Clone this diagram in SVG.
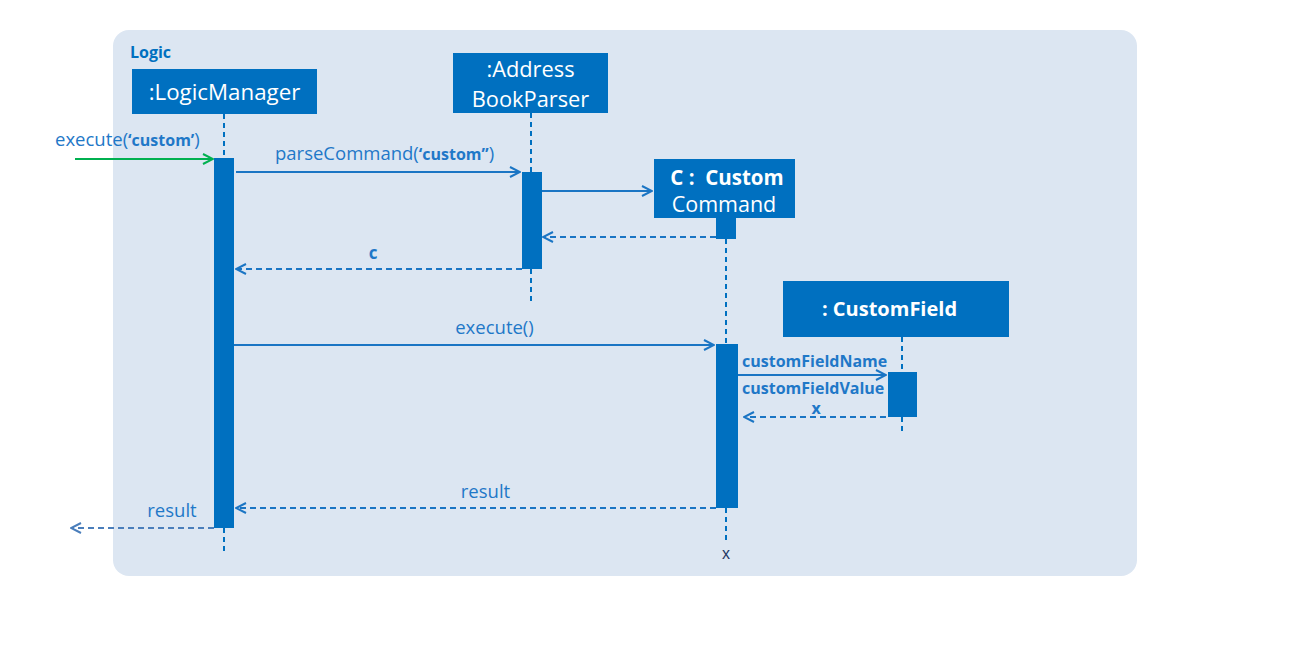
<svg xmlns="http://www.w3.org/2000/svg" width="1302" height="648" viewBox="0 0 1302 648">
<defs>
<style>
.box{fill:#0070c0;}
.act{fill:#0070c0;}
.bt{fill:#ffffff;font-family:"Open Sans","Noto Sans",sans-serif;text-anchor:middle;}
.life{stroke:#0070c0;stroke-width:2;stroke-dasharray:5,4;fill:none;}
.msg{stroke:#1a75c4;stroke-width:2;fill:none;}
.ret{stroke:#1a75c4;stroke-width:2;stroke-dasharray:6,4;fill:none;}
.lbl{fill:#1f78c8;font-family:"Open Sans","Noto Sans",sans-serif;font-size:18.5px;}
.sm{font-weight:bold;font-size:16px;}
.b{font-weight:bold;}
</style>
<marker id="open" viewBox="0 0 12 12" refX="11" refY="6" markerWidth="12" markerHeight="12" markerUnits="userSpaceOnUse" orient="auto">
<path d="M1,1 L11,6 L1,11" fill="none" stroke="#1a75c4" stroke-width="2"/>
</marker>
<marker id="openG" viewBox="0 0 12 12" refX="11" refY="6" markerWidth="12" markerHeight="12" markerUnits="userSpaceOnUse" orient="auto">
<path d="M1,1 L11,6 L1,11" fill="none" stroke="#00b050" stroke-width="2"/>
</marker>
<marker id="openL" viewBox="0 0 12 12" refX="11" refY="6" markerWidth="12" markerHeight="12" markerUnits="userSpaceOnUse" orient="auto">
<path d="M1,1 L11,6 L1,11" fill="none" stroke="#4a7ebb" stroke-width="2"/>
</marker>
</defs>
<rect width="1302" height="648" fill="#ffffff"/>
<g id="frame">
<rect x="113" y="30" width="1024" height="546" rx="16" fill="#dce6f2"/>
<text x="130" y="58" font-family="Open Sans, Noto Sans, sans-serif" font-weight="bold" font-size="16" fill="#0070c0">Logic</text>
</g>
<g id="logicManager">
<rect class="box" x="132" y="69" width="185" height="45"/>
<text class="bt" x="224.5" y="100" font-size="22.3">:LogicManager</text>
<line class="life" x1="224" y1="114" x2="224" y2="158"/>
<rect class="act" x="214" y="158" width="20" height="370"/>
<line class="life" x1="224" y1="528" x2="224" y2="555"/>
</g>
<g id="addressBookParser">
<rect class="box" x="453" y="53" width="155" height="60"/>
<text class="bt" x="530.5" y="77" font-size="21.8">:Address</text>
<text class="bt" x="530.5" y="107" font-size="21.8">BookParser</text>
<line class="life" x1="531" y1="113" x2="531" y2="172"/>
<rect class="act" x="522" y="172" width="20" height="97"/>
<line class="life" x1="531" y1="269" x2="531" y2="301"/>
</g>
<g id="customCommand">
<rect class="box" x="654" y="159" width="141" height="59"/>
<text class="bt" x="727" y="185" font-size="20.5" font-weight="bold" xml:space="preserve">C :  Custom</text>
<text class="bt" x="724" y="212" font-size="21.5">Command</text>
<rect class="act" x="716" y="218" width="20" height="21"/>
<line class="life" x1="726" y1="239" x2="726" y2="344"/>
<rect class="act" x="716" y="344" width="22" height="164"/>
<line class="life" x1="726" y1="508" x2="726" y2="540"/>
<text x="726" y="559" text-anchor="middle" font-family="Liberation Sans, sans-serif" font-size="16" fill="#1f3864">x</text>
</g>
<g id="customField">
<rect class="box" x="783" y="281" width="226" height="56"/>
<text class="bt" x="889.5" y="316" font-size="20" font-weight="bold">: CustomField</text>
<line class="life" x1="902" y1="337" x2="902" y2="372"/>
<rect class="act" x="888" y="372" width="29" height="45"/>
<line class="life" x1="902" y1="417" x2="902" y2="434"/>
</g>
<g id="connectors">
<line x1="75" y1="159" x2="213" y2="159" stroke="#00b050" stroke-width="2" marker-end="url(#openG)"/>
<text class="lbl" x="55" y="146">execute(<tspan class="sm">‘custom’</tspan>)</text>
<line class="msg" x1="236" y1="172" x2="520" y2="172" marker-end="url(#open)"/>
<text class="lbl" x="275" y="160">parseCommand(<tspan class="sm">‘custom”</tspan>)</text>
<line class="msg" x1="542" y1="191" x2="652" y2="191" marker-end="url(#open)"/>
<line class="ret" x1="716" y1="237" x2="543" y2="237" marker-end="url(#open)"/>
<line class="ret" x1="522" y1="269" x2="236" y2="269" marker-end="url(#open)"/>
<text class="lbl b" x="373" y="259" text-anchor="middle" style="font-size:17px">c</text>
<line class="msg" x1="234" y1="345" x2="714" y2="345" marker-end="url(#open)"/>
<text class="lbl" x="494.5" y="334" text-anchor="middle">execute()</text>
<line class="msg" x1="738" y1="375" x2="886" y2="375" marker-end="url(#open)"/>
<text class="lbl b" x="742" y="367" style="font-size:16px">customFieldName</text>
<text class="lbl b" x="742" y="394" style="font-size:16px">customFieldValue</text>
<text class="lbl b" x="816" y="414" text-anchor="middle" style="font-size:16px">x</text>
<line class="ret" x1="886" y1="417" x2="744" y2="417" marker-end="url(#open)"/>
<line class="ret" x1="716" y1="508" x2="236" y2="508" marker-end="url(#open)"/>
<text class="lbl" x="485.5" y="498" text-anchor="middle">result</text>
<line x1="214" y1="528" x2="71" y2="528" stroke="#4a7ebb" stroke-width="2" stroke-dasharray="6,4" marker-end="url(#openL)"/>
<text class="lbl" x="172" y="517" text-anchor="middle">result</text>
</g>
</svg>
